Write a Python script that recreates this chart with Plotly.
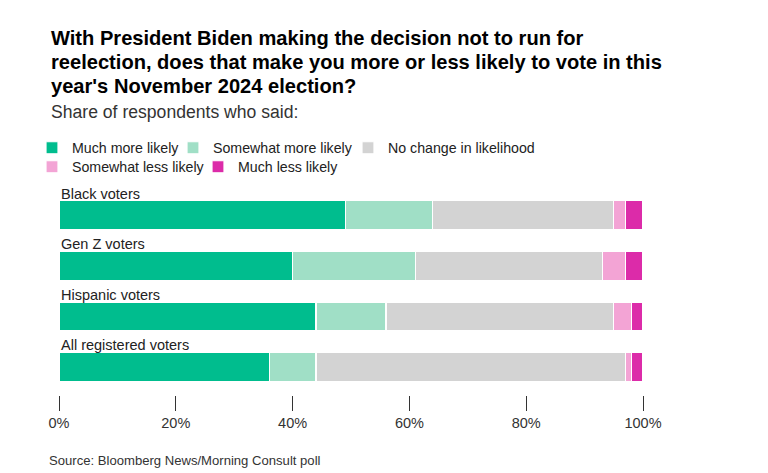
import plotly.graph_objects as go

categories = ["Black voters", "Gen Z voters", "Hispanic voters", "All registered voters"]
series_names = ["Much more likely", "Somewhat more likely", "No change in likelihood",
                "Somewhat less likely", "Much less likely"]
much_more = [49, 40, 44, 36]
somewhat_more = [15, 21, 12, 8]
no_change = [31, 32, 39, 53]
somewhat_less = [2, 4, 3, 1]
much_less = [3, 3, 2, 2]
tick_vals = [0, 20, 40, 60, 80, 100]
tick_text = ["0%", "20%", "40%", "60%", "80%", "100%"]
title_lines = ["With President Biden making the decision not to run for",
               "reelection, does that make you more or less likely to vote in this",
               "year's November 2024 election?"]
subtitle = "Share of respondents who said:"
source = "Source: Bloomberg News/Morning Consult poll"

series_values = [much_more, somewhat_more, no_change, somewhat_less, much_less]
colors = ["#00bd8e", "#a0dfc6", "#d3d3d3", "#f3a4d5", "#dc2ba9"]
legend_ids = ["legend", "legend2", "legend3", "legend4", "legend5"]

FONT = "Liberation Sans"
W, H = 768, 473
L, R, T, B = 51, 133, 182, 86
pw, ph = W - L - R, H - T - B

def px_x(x):
    return (x - L) / pw

def px_y(y):
    return (H - B - y) / ph

fig = go.Figure()
for name, vals, col, lg in zip(series_names, series_values, colors, legend_ids):
    fig.add_trace(go.Bar(
        x=vals, y=categories, orientation="h", name=name,
        marker=dict(color=col, line=dict(color="white", width=1.2)),
        width=0.57, legend=lg, showlegend=True, hoverinfo="skip",
    ))

for c in categories:
    fig.add_annotation(x=0, xref="x", y=c, yref="y", text=c, showarrow=False,
                       xanchor="left", yanchor="middle", yshift=21.5, xshift=-0.5,
                       font=dict(family=FONT, size=14.5, color="#222"))

for i, line in enumerate(title_lines):
    fig.add_annotation(x=px_x(41), xref="paper", y=px_y(30 + 24 * i), yref="paper",
                       text="<b>" + line + "</b>", showarrow=False,
                       xanchor="left", yanchor="middle",
                       font=dict(family=FONT, size=20.1, color="#000"))

fig.add_annotation(x=px_x(41), xref="paper", y=px_y(104), yref="paper",
                   text=subtitle, showarrow=False, xanchor="left", yanchor="middle",
                   font=dict(family=FONT, size=17.6, color="#333"))

fig.add_annotation(x=px_x(39), xref="paper", y=px_y(452), yref="paper",
                   text=source, showarrow=False, xanchor="left", yanchor="middle",
                   font=dict(family=FONT, size=13.1, color="#333"))

legend_pos = [(24, 124), (165, 124), (340, 124), (24, 143), (190, 143)]
legend_layouts = {}
for lg, (lx, ly) in zip(legend_ids, legend_pos):
    legend_layouts[lg] = dict(
        orientation="h", x=px_x(lx), y=px_y(ly), xanchor="left", yanchor="top",
        font=dict(family=FONT, size=14.2, color="#222"), bgcolor="rgba(0,0,0,0)",
        itemclick=False, itemdoubleclick=False, visible=True)

fig.update_layout(
    width=W, height=H,
    margin=dict(l=L, r=R, t=T, b=B),
    paper_bgcolor="white", plot_bgcolor="white",
    barmode="stack", showlegend=True,
    xaxis=dict(range=[0, 100], tickvals=tick_vals, ticktext=tick_text,
               showgrid=False, zeroline=False, showline=False,
               ticks="outside", ticklen=15, tickcolor="#333", tickwidth=1,
               tickfont=dict(family=FONT, size=14.5, color="#333"), fixedrange=True),
    yaxis=dict(categoryorder="array", categoryarray=categories,
               range=[3.554, -0.5], showticklabels=False, showgrid=False,
               zeroline=False, showline=False, fixedrange=True),
    font=dict(family=FONT),
    **legend_layouts,
)

fig.write_html("out.html")
